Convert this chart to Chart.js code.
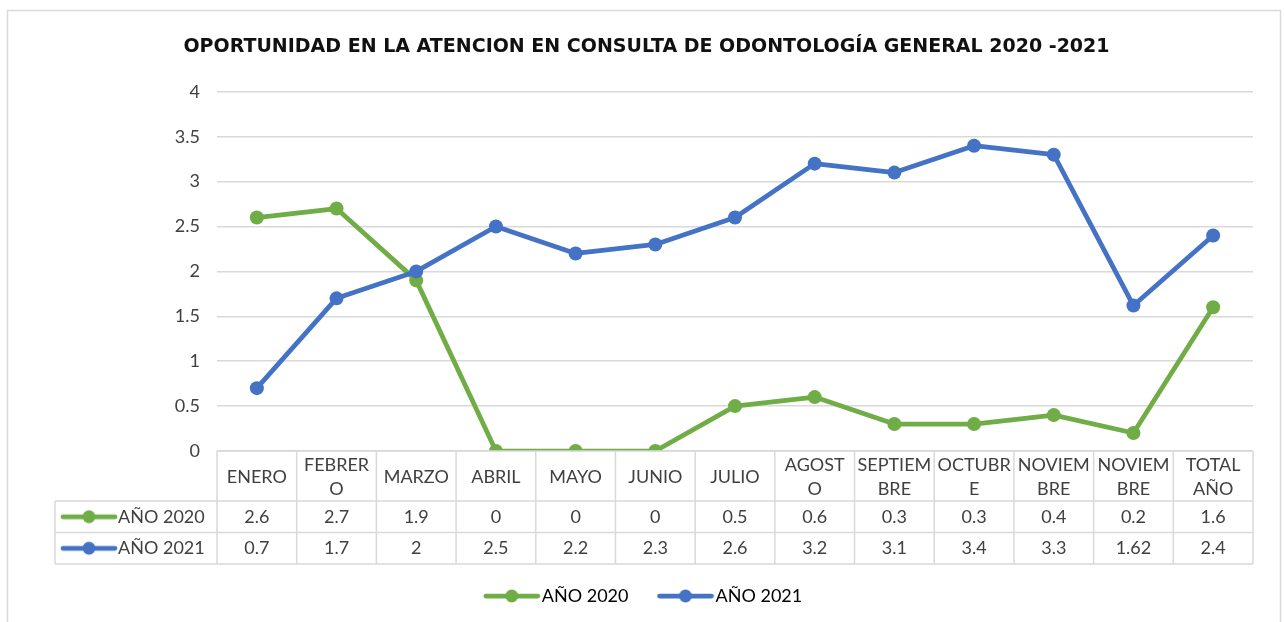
<!DOCTYPE html>
<html>
<head>
<meta charset="utf-8">
<script src="https://cdn.jsdelivr.net/npm/chart.js@4.4.1/dist/chart.umd.min.js"></script>
<style>
  html, body { margin: 0; padding: 0; background: #fff; }
  #wrap { width: 1284px; height: 622px; }
</style>
</head>
<body>
<div id="wrap"><canvas id="chart" width="1284" height="622"></canvas></div>
<script>
// --- datos ---
const categories = ['ENERO', ['FEBRER', 'O'], 'MARZO', 'ABRIL', 'MAYO', 'JUNIO', 'JULIO',
    ['AGOST', 'O'], ['SEPTIEM', 'BRE'], ['OCTUBR', 'E'], ['NOVIEM', 'BRE'], ['NOVIEM', 'BRE'], ['TOTAL', 'AÑO']];
const serie2020 = [2.6, 2.7, 1.9, 0, 0, 0, 0.5, 0.6, 0.3, 0.3, 0.4, 0.2, 1.6];
const serie2021 = [0.7, 1.7, 2, 2.5, 2.2, 2.3, 2.6, 3.2, 3.1, 3.4, 3.3, 1.62, 2.4];
const seriesNames = ['AÑO 2020', 'AÑO 2021'];
const yTickValues = [0, 0.5, 1, 1.5, 2, 2.5, 3, 3.5, 4];
const chartTitle = 'OPORTUNIDAD EN LA ATENCION EN CONSULTA DE ODONTOLOGÍA GENERAL 2020 -2021';

const GREEN = '#70ad47';
const BLUE = '#4472c4';
const TEXT = '#404040';
const GRID = '#d9d9d9';
const FONT = 'Lato';
const FS = 18;

// icono de leyenda: linea con punto
function makeKey(color) {
    const c = document.createElement('canvas');
    c.width = 58; c.height = 16;
    const g = c.getContext('2d');
    g.strokeStyle = color; g.lineWidth = 4.75; g.lineCap = 'round';
    g.beginPath(); g.moveTo(3, 8); g.lineTo(55, 8); g.stroke();
    g.fillStyle = color;
    g.beginPath(); g.arc(29, 8, 6.5, 0, Math.PI * 2); g.fill();
    return c;
}
const keys = [makeKey(GREEN), makeKey(BLUE)];

// marco exterior
const framePlugin = {
    id: 'frame',
    beforeDraw(chart) {
        const ctx = chart.ctx;
        ctx.save();
        ctx.fillStyle = '#fff';
        ctx.fillRect(0, 0, chart.width, chart.height);
        ctx.strokeStyle = GRID; ctx.lineWidth = 1.5;
        ctx.strokeRect(7.5, 10.5, 1273, 660);
        ctx.restore();
    }
};

// tabla de datos bajo el eje X
const tablePlugin = {
    id: 'dataTable',
    afterDraw(chart) {
        const ctx = chart.ctx;
        const x = chart.scales.x;
        const area = chart.chartArea;
        const n = categories.length;
        const colW = (area.right - area.left) / n;
        const top = area.bottom;
        const headH = 50, rowH = 31.5;
        const keyLeft = 55;
        const bottom = top + headH + rowH * 2;

        ctx.save();
        ctx.strokeStyle = GRID; ctx.lineWidth = 1.5;
        ctx.beginPath();
        ctx.moveTo(area.left, top); ctx.lineTo(area.right, top);
        for (let r = 0; r <= 2; r++) {
            const y = top + headH + r * rowH;
            ctx.moveTo(keyLeft, y); ctx.lineTo(area.right, y);
        }
        for (let i = 0; i <= n; i++) {
            const xx = area.left + i * colW;
            ctx.moveTo(xx, top); ctx.lineTo(xx, bottom);
        }
        ctx.moveTo(keyLeft, top + headH); ctx.lineTo(keyLeft, bottom);
        ctx.stroke();

        ctx.fillStyle = TEXT;
        ctx.font = FS + 'px ' + FONT;
        ctx.textAlign = 'center'; ctx.textBaseline = 'middle';
        categories.forEach((lab, i) => {
            const cx = x.getPixelForValue(i);
            const cy = top + headH / 2 + 1;
            if (Array.isArray(lab)) {
                ctx.fillText(lab[0], cx, cy - 12);
                ctx.fillText(lab[1], cx, cy + 12);
            } else {
                ctx.fillText(lab, cx, cy);
            }
        });

        [serie2020, serie2021].forEach((serie, r) => {
            const cy = top + headH + rowH * r + rowH / 2;
            serie.forEach((v, i) => {
                ctx.textAlign = 'center';
                ctx.fillText(String(v), x.getPixelForValue(i), cy);
            });
            ctx.drawImage(keys[r], keyLeft + 5, cy - 8);
            ctx.textAlign = 'left';
            ctx.fillText(seriesNames[r], keyLeft + 63, cy);
        });
        ctx.restore();
    }
};

const lineStyle = (color) => ({
    borderColor: color, backgroundColor: color,
    borderWidth: 4.75, pointRadius: 7, pointHoverRadius: 7,
    pointBackgroundColor: color, pointBorderWidth: 0,
    borderCapStyle: 'round', borderJoinStyle: 'round', tension: 0, fill: false
});

new Chart(document.getElementById('chart'), {
    type: 'line',
    data: {
        labels: categories,
        datasets: [
            { label: seriesNames[0], data: serie2020, order: 1, ...lineStyle(GREEN) },
            { label: seriesNames[1], data: serie2021, order: 0, ...lineStyle(BLUE) }
        ]
    },
    options: {
        responsive: false, animation: false, devicePixelRatio: 1,
        layout: { padding: { left: 40, right: 31, top: 36, bottom: 7 } },
        scales: {
            x: {
                offset: true,
                grid: { display: false, drawTicks: false },
                border: { display: false },
                ticks: { display: false },
                afterFit(scale) { scale.height = 100; }
            },
            y: {
                min: 0, max: 4,
                afterBuildTicks(scale) { scale.ticks = yTickValues.map(v => ({ value: v })); },
                grid: { color: GRID, lineWidth: 1.5, drawTicks: false },
                border: { display: false },
                ticks: {
                    color: TEXT, padding: 17, font: { family: FONT, size: FS },
                    callback: (v) => String(v)
                },
                afterFit(scale) { scale.width = 177; }
            }
        },
        plugins: {
            title: {
                display: true, text: chartTitle, color: '#111',
                font: { family: 'DejaVu Sans', size: 19, weight: 'bold' },
                padding: { top: 0, bottom: 33 }
            },
            legend: {
                position: 'bottom',
                labels: {
                    color: TEXT, font: { family: FONT, size: FS }, padding: 36,
                    usePointStyle: true, pointStyleWidth: 42,
                    generateLabels(chart) {
                        return chart.data.datasets.map((ds, i) => ({
                            text: ds.label, pointStyle: keys[i], fillStyle: ds.borderColor,
                            strokeStyle: ds.borderColor, lineWidth: 0, datasetIndex: i, hidden: false
                        }));
                    }
                }
            },
            tooltip: { enabled: false }
        }
    },
    plugins: [framePlugin, tablePlugin]
});
</script>
</body>
</html>
